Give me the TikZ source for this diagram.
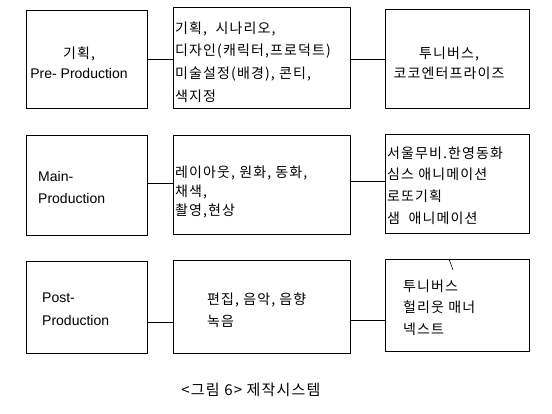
\documentclass[tikz,border=0pt]{standalone}
\usepackage{fontspec}
\setmainfont{Noto Sans CJK KR}[LetterSpace=8]
\newfontfamily\latinfont{Liberation Sans}
\usepackage{tikz}
\tikzstyle{stage} = [rectangle, draw=black, line width=0.8pt, inner sep=0pt]
\tikzstyle{txt} = [inner sep=0pt, align=left, anchor=west, font=\fontsize{14}{22}\selectfont]
\tikzstyle{link} = [line width=0.8pt, black]
\newcommand{\lat}[1]{{\latinfont\fontsize{14}{22}\selectfont #1}}

\begin{document}
\begin{tikzpicture}[x=1pt, y=-1pt]
\useasboundingbox (0,0) rectangle (552,414);

% row 1: pre production
\node[stage, minimum width=121, minimum height=98] (pre) at (86.5,59) {};
\node[stage, minimum width=177, minimum height=101] (preWork) at (261.5,57.5) {};
\node[stage, minimum width=144, minimum height=99] (preCo) at (457,58.5) {};
\node[txt, anchor=center, align=center, font=\fontsize{14}{20}\selectfont] (preName) at (79,63) {기획,\\\lat{Pre- Production}};
\node[txt, font=\fontsize{14}{22.7}\selectfont] (preTxt) at (175,62) {기획,\ \ 시나리오,\\디자인(캐릭터,프로덕트)\\미술설정(배경), 콘티,\\색지정};
\node[txt, anchor=center, align=center, font=\fontsize{14}{20}\selectfont] (preCoTxt) at (449,63) {투니버스,\\코코엔터프라이즈};

% row 2: main production
\node[stage, minimum width=121, minimum height=100] (main) at (86.5,185) {};
\node[stage, minimum width=177, minimum height=99] (mainWork) at (261.5,184.5) {};
\node[stage, minimum width=144, minimum height=99] (mainCo) at (457,183.5) {};
\node[txt] (mainName) at (38,187) {\lat{Main-}\\\lat{Production}};
\node[txt, font=\fontsize{14}{19}\selectfont] (mainTxt) at (175,192.5) {레이아웃, 원화, 동화,\\채색,\\촬영,현상};
\node[txt, font=\fontsize{14}{21.7}\selectfont] (mainCoTxt) at (387,185.5) {서울무비.한영동화\\심스 애니메이션\\로또기획\\샘\ \ 애니메이션};

% row 3: post production
\node[stage, minimum width=121, minimum height=92] (post) at (86.5,307) {};
\node[stage, minimum width=177, minimum height=93] (postWork) at (261.5,306.5) {};
\node[stage, minimum width=144, minimum height=92] (postCo) at (457,305) {};
\node[txt, font=\fontsize{14}{23}\selectfont] (postName) at (42,309.5) {\lat{Post-}\\\lat{Production}};
\node[txt] (postTxt) at (207,310) {편집, 음악, 음향\\녹음};
\node[txt, font=\fontsize{14}{21.5}\selectfont] (postCoTxt) at (403,307.5) {투니버스\\헐리웃 매너\\넥스트};

% connectors
\coordinate (r1) at (0,59);
\coordinate (r2a) at (0,183);
\coordinate (r2b) at (0,181);
\coordinate (r3a) at (0,322);
\coordinate (r3b) at (0,320);
\draw[link] (pre.east |- r1) -- (preWork.west |- r1);
\draw[link] (preWork.east |- r1) -- (preCo.west |- r1);
\draw[link] (main.east |- r2a) -- (mainWork.west |- r2a);
\draw[link] (mainWork.east |- r2b) -- (mainCo.west |- r2b);
\draw[link] (post.east |- r3a) -- (postWork.west |- r3a);
\draw[link] (postWork.east |- r3b) -- (postCo.west |- r3b);
\draw[line width=0.6pt] (449,259) -- (453,270);

% caption
\node[txt, anchor=center, font=\fontsize{15}{22}\selectfont] (caption) at (251,390) {<그림 6> 제작시스템};
\end{tikzpicture}
\end{document}
